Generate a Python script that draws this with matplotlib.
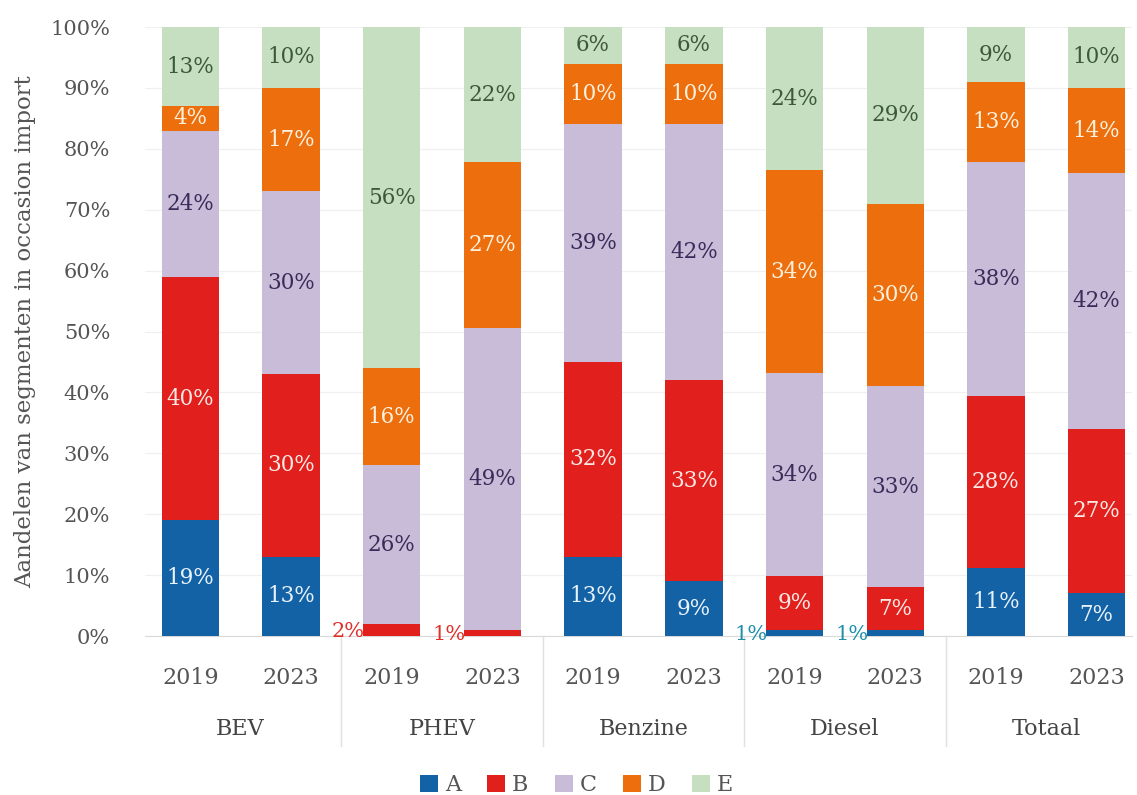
import matplotlib
matplotlib.use("Agg")
import matplotlib.pyplot as plt
from matplotlib.patches import Patch
import matplotlib.transforms as mtransforms
import numpy as np

plt.rcParams['font.family'] = ['DejaVu Serif']

groups = ["BEV", "PHEV", "Benzine", "Diesel", "Totaal"]
years = ["2019", "2023"]
segments = ["A", "B", "C", "D", "E"]

# values per bar (BEV 2019, BEV 2023, PHEV 2019, ...), percentages as labelled
A = [19, 13, 0, 0, 13, 9, 1, 1, 11, 7]
B = [40, 30, 2, 1, 32, 33, 9, 7, 28, 27]
C = [24, 30, 26, 49, 39, 42, 34, 33, 38, 42]
D = [4, 17, 16, 27, 10, 10, 34, 30, 13, 14]
E = [13, 10, 56, 22, 6, 6, 24, 29, 9, 10]

colors = {"A": "#1462a6", "B": "#e11f1c", "C": "#c8bcd8", "D": "#ec6e0c", "E": "#c6dfc1"}
label_colors = {"A": "#e8f2fb", "B": "#fbe8e4", "C": "#3a2c5a", "D": "#fdf0dc", "E": "#3b5a38"}
outside_colors = {"A": "#1f8fa8", "B": "#e0302a"}

data = {"A": A, "B": B, "C": C, "D": D, "E": E}
n = len(A)
totals = np.array([sum(data[s][i] for s in segments) for i in range(n)], dtype=float)

fig = plt.figure(figsize=(11.37, 7.95), dpi=100)
ax = fig.add_axes([0.1275, 0.2, 0.868, 0.766])

x = np.arange(n)
width = 0.57
bottom = np.zeros(n)
for s in segments:
    vals = np.array(data[s], dtype=float)
    frac = vals / totals
    ax.bar(x, frac, width, bottom=bottom, color=colors[s], zorder=3, linewidth=0)
    for i in range(n):
        if vals[i] <= 0:
            continue
        lab = f"{int(vals[i])}%"
        if vals[i] < 3:
            ax.text(x[i] - width / 2 + 0.02, bottom[i] + frac[i] / 2 - 0.003, lab,
                    ha="right", va="center", fontsize=15,
                    color=outside_colors.get(s, "#333333"), zorder=4)
        else:
            ax.text(x[i], bottom[i] + frac[i] / 2, lab, ha="center", va="center",
                    fontsize=15.5, color=label_colors[s], zorder=4)
    bottom += frac

ax.set_xlim(-0.45, 9.35)
ax.set_ylim(0, 1.0)
yt = np.linspace(0, 1, 11)
ax.set_yticks(yt)
ax.set_yticklabels([f"{int(round(v * 100))}%" for v in yt], fontsize=15, color="#555555")
ax.yaxis.grid(True, color="#f0f0f0", linewidth=0.9, zorder=0)
ax.set_axisbelow(True)
ax.tick_params(axis="y", length=0, pad=25)
ax.tick_params(axis="x", length=0)
for sp in ["top", "right", "left"]:
    ax.spines[sp].set_visible(False)
ax.spines["bottom"].set_color("#d9d9d9")

ax.set_xticks(x)
ax.set_xticklabels([years[i % 2] for i in range(n)], fontsize=16, color="#555555")
ax.tick_params(axis="x", pad=22)

trans = mtransforms.blended_transform_factory(ax.transData, ax.transAxes)
for g, name in enumerate(groups):
    ax.text(2 * g + 0.5, -0.152, name, transform=trans, ha="center", va="center",
            fontsize=16, color="#444444")
for b in [1.5, 3.5, 5.5, 7.5]:
    ax.plot([b, b], [0, -0.18], transform=trans, color="#e0e0e0", linewidth=1,
            clip_on=False)

ax.set_ylabel("Aandelen van segmenten in occasion import", fontsize=16.5,
              color="#555555", labelpad=10)

handles = [Patch(facecolor=colors[s], label=s) for s in segments]
fig.legend(handles=handles, loc="lower center", bbox_to_anchor=(0.507, -0.027), ncol=5,
           frameon=False, fontsize=16, handlelength=0.8, handleheight=0.8,
           handletextpad=0.3, columnspacing=1.2, labelcolor="#555555")

fig.savefig("out.png", dpi=100)
